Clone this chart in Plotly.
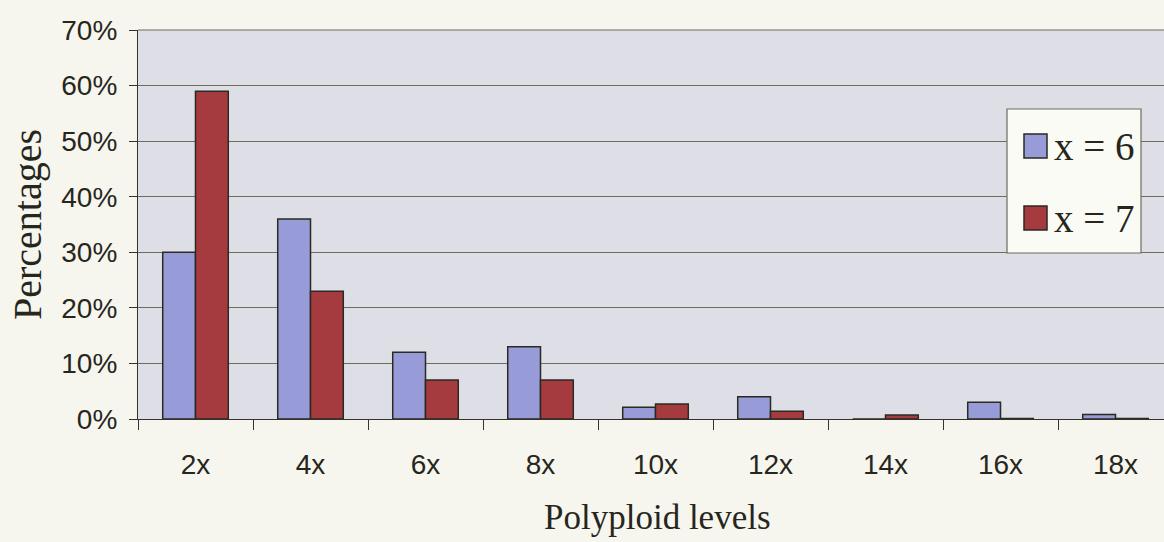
import plotly.graph_objects as go

# Polyploid level categories and the share of each level for the two base numbers
levels = ["2x", "4x", "6x", "8x", "10x", "12x", "14x", "16x", "18x"]
series_names = ["x = 6", "x = 7"]
pct_x6 = [30, 36, 12, 13, 2.1, 4.0, 0, 3.0, 0.8]
pct_x7 = [59, 23, 7, 7, 2.7, 1.4, 0.7, 0.1, 0.1]
y_ticks = [0, 10, 20, 30, 40, 50, 60, 70]
y_tick_text = [f"{v}%" for v in y_ticks]

colors = ["#979bd8", "#a63b3f"]
edge = "#2a2a22"
ink = "#26261c"

W, H = 1164, 542
L, R, T, B = 138, 0, 30, 123
plot_w = W - L - R
plot_h = H - T - B


def px_x(p):
    return (p - L) / plot_w


def px_y(p):
    return (H - B - p) / plot_h


fig = go.Figure()
for name, vals, col in zip(series_names, [pct_x6, pct_x7], colors):
    fig.add_trace(go.Bar(
        x=levels, y=vals, name=name,
        marker=dict(color=col, line=dict(color=edge, width=1.5)),
        showlegend=False,
    ))

font_sans = "Liberation Sans, Arial, sans-serif"
font_serif = "Liberation Serif, Times New Roman, serif"

fig.update_layout(
    width=W, height=H,
    margin=dict(l=L, r=R, t=T, b=B, pad=0),
    paper_bgcolor="#f6f6ef",
    plot_bgcolor="#dedee6",
    barmode="group",
    bargap=0.43,
    bargroupgap=0,
    xaxis=dict(
        type="category",
        range=[-0.5, -0.5 + plot_w / 115.0],
        tickson="boundaries",
        ticks="outside", ticklen=10, tickcolor="#333328", tickwidth=1.2,
        showline=True, linecolor="#333328", linewidth=1.2,
        showgrid=False,
        tickfont=dict(family=font_sans, size=28, color=ink),
        ticklabelstandoff=20,
    ),
    yaxis=dict(
        range=[0, 70],
        tickvals=y_ticks,
        ticktext=y_tick_text,
        ticks="outside", ticklen=8, tickcolor="#333328", tickwidth=1.2,
        showline=True, linecolor="#333328", linewidth=1.2,
        showgrid=True, gridcolor="#6d6d5a", gridwidth=1,
        zeroline=False,
        tickfont=dict(family=font_sans, size=28, color=ink),
        ticklabelstandoff=6,
    ),
)

# plot-area top border
fig.add_shape(type="line", xref="paper", yref="paper", x0=0, x1=1, y0=1, y1=1,
              line=dict(color="#6d6d5a", width=1))

# axis titles
fig.add_annotation(text="Percentages", xref="paper", yref="paper",
                   x=px_x(28), y=px_y(225), textangle=-90, showarrow=False,
                   xanchor="center", yanchor="middle",
                   font=dict(family=font_serif, size=40, color=ink))
fig.add_annotation(text="Polyploid levels", xref="paper", yref="paper",
                   x=px_x(657), y=px_y(517), showarrow=False,
                   xanchor="center", yanchor="middle",
                   font=dict(family=font_serif, size=35, color=ink))

# legend box
fig.add_shape(type="rect", xref="paper", yref="paper",
              x0=px_x(1007), x1=px_x(1141), y0=px_y(253), y1=px_y(109),
              fillcolor="#fbfbf6", line=dict(color="#6d6d5a", width=1.2))
for i, (name, col) in enumerate(zip(series_names, colors)):
    cy = 146 + i * 72
    fig.add_shape(type="rect", xref="paper", yref="paper",
                  x0=px_x(1024), x1=px_x(1047), y0=px_y(cy + 12), y1=px_y(cy - 12),
                  fillcolor=col, line=dict(color=edge, width=1.5))
    fig.add_annotation(text=name, xref="paper", yref="paper",
                       x=px_x(1052), y=px_y(cy), xanchor="left", yanchor="middle",
                       showarrow=False,
                       font=dict(family=font_serif, size=39, color=ink))

fig.write_html("out.html")
